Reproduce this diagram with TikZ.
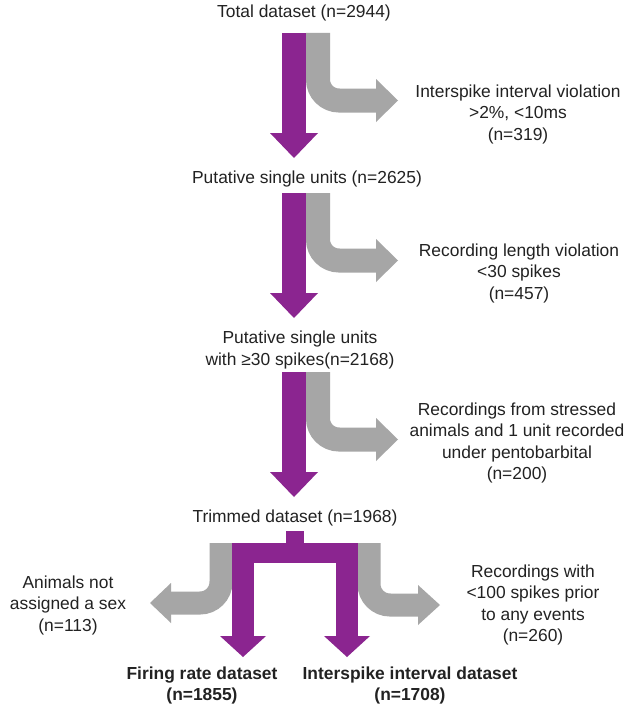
\documentclass[tikz,border=0pt]{standalone}
\usepackage{fontspec}
\setmainfont{Liberation Sans}
\definecolor{purp}{HTML}{8B2590}
\definecolor{grayarr}{HTML}{A6A6A6}
\definecolor{txt}{HTML}{222222}
\begin{document}
\begin{tikzpicture}[x=1pt,y=-1pt,
  lbl/.style={font=\fontsize{17.4}{21.5}\selectfont, text=txt, align=center, inner sep=0pt},
  bl/.style={font=\fontsize{17.4}{21}\selectfont\bfseries, text=txt, align=center, inner sep=0pt},
  gband/.style={draw=grayarr, line width=24pt, rounded corners=21pt},
  ghead/.style={fill=grayarr},
  phead/.style={fill=purp}]
\useasboundingbox (0,0) rectangle (628,709);
\fill[white] (0,0) rectangle (628,709);

% labels
\node[lbl] (t0) at (304,13) {Total dataset (n=2944)};
\node[lbl] (r1) at (518,114) {Interspike interval violation\\>2\%, <10ms\\(n=319)};
\node[lbl] (t1) at (307,179) {Putative single units (n=2625)};
\node[lbl] (r2) at (519,273) {Recording length violation\\<30 spikes\\(n=457)};
\node[lbl] (t2) at (300,350) {Putative single units\\with ≥30 spikes(n=2168)};
\node[lbl] (r3) at (517,443) {Recordings from stressed\\animals and 1 unit recorded\\under pentobarbital\\(n=200)};
\node[lbl] (t3) at (295,518) {Trimmed dataset (n=1968)};
\node[lbl] (l4) at (68,605) {Animals not\\assigned a sex\\(n=113)};
\node[lbl] (r4) at (533,605) {Recordings with\\<100 spikes prior\\to any events\\(n=260)};
\node[bl] (b1) at (202,685) {Firing rate dataset\\(n=1855)};
\node[bl] (b2) at (410,685) {Interspike interval dataset\\(n=1708)};

% three filter stages
\foreach \y in {33,193,372}{
  \draw[gband] (318,\y) -- (318,\y+67.5) -- (377,\y+67.5);
  \fill[ghead] (376,\y+46) -- (398,\y+67.5) -- (376,\y+89) -- cycle;
  \fill[purp] (282,\y) rectangle (306,\y+101);
  \fill[phead] (270,\y+100) -- (318,\y+100) -- (294,\y+125) -- cycle;
}

% final split
\draw[gband, line width=23pt] (221,543) -- (221,603) -- (169,603);
\fill[ghead] (171,583) -- (150,603) -- (171,623) -- cycle;
\draw[gband, line width=23pt] (369,543) -- (369,605) -- (419,605);
\fill[ghead] (418,585) -- (440,605) -- (418,625) -- cycle;

\fill[purp] (286,531) rectangle (304,544);
\fill[purp] (232,543) rectangle (358,563);
\fill[purp] (232,543) rectangle (254,637);
\fill[purp] (336,543) rectangle (358,637);
\fill[phead] (220,636) -- (266,636) -- (243,657) -- cycle;
\fill[phead] (324,636) -- (370,636) -- (347,657) -- cycle;
\end{tikzpicture}
\end{document}
